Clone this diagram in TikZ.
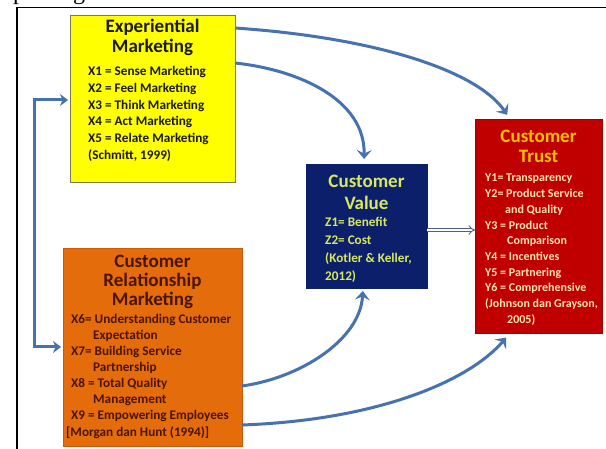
\documentclass[tikz,border=0pt]{standalone}
\usepackage{fontspec}
\setmainfont{Carlito}
\newfontfamily\serifcut{Liberation Serif}
\usetikzlibrary{arrows.meta}

\definecolor{emfill}{HTML}{FFFF00}
\definecolor{emline}{HTML}{7A7A50}
\definecolor{emtext}{HTML}{1A1A1A}
\definecolor{crmfill}{HTML}{E46C0A}
\definecolor{crmline}{HTML}{C85A08}
\definecolor{crmtext}{HTML}{4A1400}
\definecolor{cvfill}{HTML}{0B1F6B}
\definecolor{cvtext}{HTML}{DCE85C}
\definecolor{ctfill}{HTML}{C00000}
\definecolor{ctline}{HTML}{A00000}
\definecolor{cttitle}{HTML}{FFC000}
\definecolor{cttext}{HTML}{FFE6B0}
\definecolor{flowblue}{HTML}{4672B0}
\definecolor{dblblue}{HTML}{4F5F86}

\begin{document}
\begin{tikzpicture}[x=1pt,y=-1pt,
  box/.style={rectangle, inner sep=0pt, outer sep=0pt, anchor=north west, line width=0.8pt},
  title/.style={anchor=base, inner sep=0pt, font=\bfseries\fontsize{19}{20}\selectfont},
  item/.style={anchor=base west, inner sep=0pt, font=\bfseries\fontsize{13.2}{15}\selectfont},
  smallitem/.style={anchor=base west, inner sep=0pt, font=\bfseries\fontsize{12}{14}\selectfont},
  flow/.style={draw=flowblue, line width=3pt,
    -{Stealth[length=9pt, width=15pt, inset=3.5pt]}},
  link/.style={draw=flowblue, line width=3pt,
    {Stealth[length=8pt, width=12pt, inset=2.5pt]}-{Stealth[length=8pt, width=12pt, inset=2.5pt]}},
  dbl/.style={draw=dblblue, line width=0.9pt, double=white, double distance=2.4pt,
    -{Implies}}
]
\useasboundingbox (0,0) rectangle (606,449);
\fill[white] (0,0) rectangle (606,449);

% descenders of the heading line above the frame
\begin{scope}
  \clip (0,0) rectangle (606,7);
  \node[anchor=base west, inner sep=0pt, font=\serifcut\fontsize{24}{24}\selectfont]
    (heading) at (13,-0.5) {paradigm};
\end{scope}

% frame
\draw[line width=1.2pt] (606,7.5) -- (17,7.5) -- (17,449);

% boxes
\node[box, fill=emfill, draw=emline, minimum width=165pt, minimum height=167pt] (em) at (70,15) {};
\node[box, fill=crmfill, draw=crmline, minimum width=179pt, minimum height=198pt] (crm) at (63,248) {};
\node[box, fill=cvfill, draw=cvfill, minimum width=121pt, minimum height=124pt] (cv) at (306,164) {};
\node[box, fill=ctfill, draw=ctline, minimum width=127pt, minimum height=214pt] (ct) at (475,119) {};

% Experiential Marketing
\node[title, text=emtext] (em-t1) at (152.5,33) {Experiential};
\node[title, text=emtext] (em-t2) at (152.5,53) {Marketing};
\foreach \yy/\tx [count=\i] in {76/X1 = Sense Marketing, 93/X2 = Feel Marketing,
    110/X3 = Think Marketing, 126/X4 = Act Marketing, 143/X5 = Relate Marketing,
    160/{(Schmitt, 1999)}}
  \node[item, text=emtext] (em-\i) at (88,\yy) {\tx};

% Customer Relationship Marketing
\node[title, text=crmtext] (crm-t1) at (152.5,268) {Customer};
\node[title, text=crmtext] (crm-t2) at (152.5,287) {Relationship};
\node[title, text=crmtext] (crm-t3) at (152.5,306) {Marketing};
\foreach \xx/\yy/\tx [count=\i] in {71/324/X6= Understanding Customer, 93/340/Expectation,
    71/356/X7= Building Service, 93/372/Partnership,
    71/388/X8 = Total Quality, 93/404/Management,
    71/420/X9 = Empowering Employees, 66/436/{[Morgan dan Hunt (1994)]}}
  \node[item, text=crmtext] (crm-\i) at (\xx,\yy) {\tx};

% Customer Value
\node[title, text=cvtext] (cv-t1) at (366.5,188) {Customer};
\node[title, text=cvtext] (cv-t2) at (366.5,210) {Value};
\foreach \yy/\tx [count=\i] in {227/Z1= Benefit, 245/Z2= Cost,
    263/{(Kotler \& Keller,}, 281/2012)}
  \node[item, text=cvtext] (cv-\i) at (325,\yy) {\tx};

% Customer Trust
\node[title, text=cttitle] (ct-t1) at (538.5,143) {Customer};
\node[title, text=cttitle] (ct-t2) at (538.5,163) {Trust};
\foreach \xx/\yy/\tx [count=\i] in {485/182/Y1= Transparency, 485/197.7/Y2= Product Service,
    505/213.4/and Quality, 485/229.1/Y3 = Product, 507/244.8/Comparison,
    485/260.5/Y4 = Incentives, 485/276.2/Y5 = Partnering,
    485/291.9/Y6 = Comprehensive, 485/307.6/{(Johnson dan Grayson,}, 507/323.3/2005)}
  \node[smallitem, text=cttext] (ct-\i) at (\xx,\yy) {\tx};

% connectors
\coordinate (brtop) at (34,100);
\coordinate (brbot) at (34,347);
\draw[link, shorten <=2pt, shorten >=2pt] (brtop -| em.west) -- (brtop) -- (brbot) -- (brbot -| crm.west);

\draw[flow, shorten >=5pt] ([yshift=-13pt]em.north east)
  .. controls (380,38) and (478,72) .. ([xshift=35pt]ct.north west);
\draw[flow, shorten >=5pt] ([yshift=-48pt]em.north east)
  .. controls (300,70) and (365,100) .. ([xshift=58pt]cv.north west);
\draw[flow, shorten >=3pt] ([yshift=-138pt]crm.north east)
  .. controls (300,378) and (360,340) .. ([xshift=57pt]cv.south west);
\draw[flow, shorten >=6pt] ([yshift=-177pt]crm.north east)
  .. controls (380,420) and (470,380) .. ([xshift=35pt]ct.south west);
\draw[dbl] ([yshift=-4pt]cv.east) -- ([yshift=-4pt]ct.west);
\end{tikzpicture}
\end{document}
